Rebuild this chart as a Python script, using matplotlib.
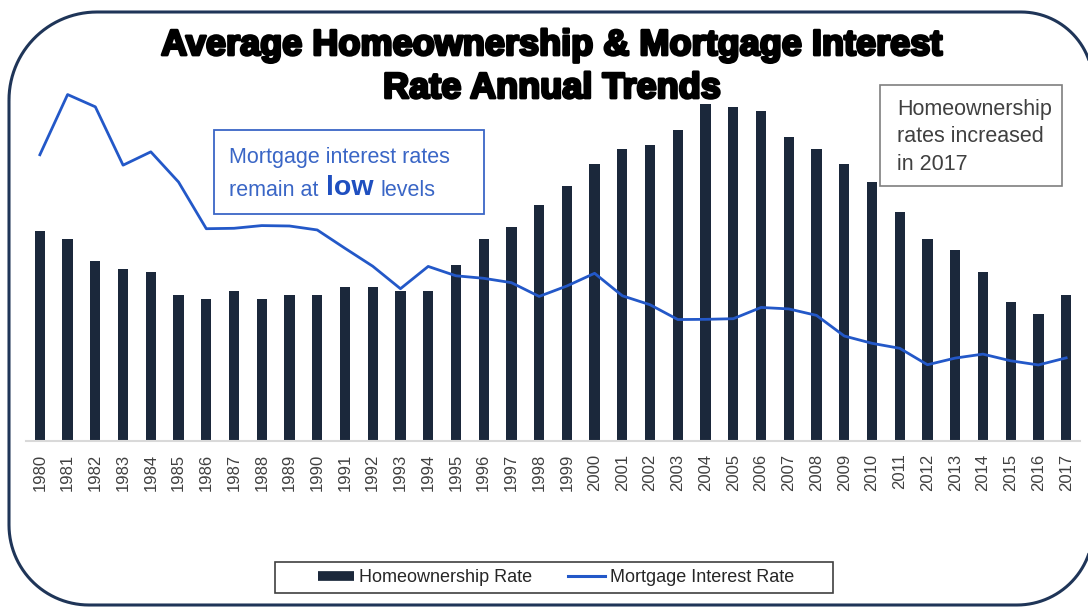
import numpy as np
import matplotlib.pyplot as plt
import matplotlib.patheffects as pe
from matplotlib.patches import Rectangle, PathPatch
from matplotlib.path import Path
from matplotlib.lines import Line2D

plt.rcParams['font.family'] = ['Liberation Sans', 'DejaVu Sans']

YEARS = ["1980", "1981", "1982", "1983", "1984", "1985", "1986", "1987",
         "1988", "1989", "1990", "1991", "1992", "1993", "1994", "1995",
         "1996", "1997", "1998", "1999", "2000", "2001", "2002", "2003",
         "2004", "2005", "2006", "2007", "2008", "2009", "2010", "2011",
         "2012", "2013", "2014", "2015", "2016", "2017"]

# homeownership rate, %
HOMEOWNERSHIP = [65.6, 65.4, 64.8, 64.6, 64.5, 63.9, 63.8, 64.0, 63.8, 63.9,
                 63.9, 64.1, 64.1, 64.0, 64.0, 64.7, 65.4, 65.7, 66.3, 66.8,
                 67.4, 67.8, 67.9, 68.3, 69.0, 68.9, 68.8, 68.1, 67.8, 67.4,
                 66.9, 66.1, 65.4, 65.1, 64.5, 63.7, 63.4, 63.9]

# 30-year fixed mortgage rate, annual average %
MORTGAGE = [13.74, 16.63, 16.04, 13.24, 13.88, 12.43, 10.19, 10.21, 10.34,
            10.32, 10.13, 9.25, 8.39, 7.31, 8.38, 7.93, 7.81, 7.60, 6.94,
            7.44, 8.05, 6.97, 6.54, 5.83, 5.84, 5.87, 6.41, 6.34, 6.03,
            5.04, 4.69, 4.45, 3.66, 3.98, 4.17, 3.85, 3.65, 3.99]

TITLE_LINES = ["Average Homeownership & Mortgage Interest", "Rate Annual Trends"]
NOTE_RATES = ("Mortgage interest rates", "remain at", "low", "levels")
NOTE_OWNERSHIP = "Homeownership\nrates increased\nin 2017"
SERIES = ["Homeownership Rate", "Mortgage Interest Rate"]

NAVY = "#1b283b"
BLUE = "#2358c8"
BLUE_TXT = "#3a66c6"
FRAME = "#1f3558"
GREY_TXT = "#404040"

W, H = 1088, 608
fig = plt.figure(figsize=(W / 100, H / 100), dpi=100)

# main chart: bars on the left scale, line on a hidden twin scale
ax = fig.add_axes([26 / W, 1 - 441 / H, (1080 - 26) / W, (441 - 66) / H])
ax.patch.set_alpha(0)
x = np.arange(len(YEARS))
ax.bar(x, HOMEOWNERSHIP, width=0.37, color=NAVY, zorder=2)
ax.set_ylim(60, 70)
ax.set_xlim(-0.5, len(YEARS) - 0.5)
ax.set_xticks(x, YEARS, rotation=90, fontsize=12, color=GREY_TXT)
ax.tick_params(axis="x", length=0, pad=9)
ax.set_yticks([])
for side in ["top", "left", "right"]:
    ax.spines[side].set_visible(False)
ax.spines["bottom"].set_color("#d9d9d9")
ax.spines["bottom"].set_linewidth(1.5)

ax2 = ax.twinx()
ax2.plot(x, MORTGAGE, color=BLUE, linewidth=2.0, zorder=3)
ax2.set_ylim(0, 18)
ax2.axis("off")

# overlay in pixel units (y down) for the frame, notes and title
ov = fig.add_axes([0, 0, 1, 1])
ov.set_xlim(0, W)
ov.set_ylim(H, 0)
ov.axis("off")
ov.patch.set_alpha(0)


def rounded_frame(left, top, right, bottom, r_tl, r_tr, r_br, r_bl):
    """Closed outline with a separate radius for each corner."""
    def arc(cx, cy, r, a0, a1):
        t = np.radians(np.linspace(a0, a1, 30))
        return np.column_stack([cx + r * np.cos(t), cy + r * np.sin(t)])
    pts = np.vstack([
        arc(left + r_tl, top + r_tl, r_tl, 180, 270),
        arc(right - r_tr, top + r_tr, r_tr, 270, 360),
        arc(right - r_br, bottom - r_br, r_br, 0, 90),
        arc(left + r_bl, bottom - r_bl, r_bl, 90, 180),
    ])
    pts = np.vstack([pts, pts[:1]])
    return Path(pts)


ov.add_patch(PathPatch(rounded_frame(9, 12, 1093, 605, 88, 72, 76, 80),
                       fill=False, edgecolor=FRAME, linewidth=2.2,
                       clip_on=False))

heavy = [pe.withStroke(linewidth=2.0, foreground="black")]
for line, base in zip(TITLE_LINES, [55, 98]):
    ov.text(552, base, line, ha="center", va="baseline", fontsize=26,
            fontweight="bold", color="black", path_effects=heavy)

# note about mortgage rates, with "low" emphasised
ov.add_patch(Rectangle((214, 130), 270, 84, facecolor="white",
                       edgecolor=BLUE_TXT, linewidth=1.3))
ov.text(229, 157, NOTE_RATES[0], ha="left", va="center", fontsize=15.5,
        color=BLUE_TXT)
renderer = fig.canvas.get_renderer()
t1 = ov.text(229, 190, NOTE_RATES[1], ha="left", va="center",
             fontsize=15.5, color=BLUE_TXT)
x1 = 229 + t1.get_window_extent(renderer).width + 8
t2 = ov.text(x1, 188, NOTE_RATES[2], ha="left", va="center", fontsize=20.5,
             fontweight="bold", color="#1f4fc0")
x2 = x1 + t2.get_window_extent(renderer).width + 7
ov.text(x2, 190, NOTE_RATES[3], ha="left", va="center", fontsize=15.5,
        color=BLUE_TXT)

# note about homeownership
ov.add_patch(Rectangle((880, 85), 182, 101, facecolor="white",
                       edgecolor="#7f7f7f", linewidth=1.2))
ov.text(897, 137, NOTE_OWNERSHIP, ha="left", va="center", fontsize=15.5,
        color=GREY_TXT, linespacing=1.39)

# legend with a hand-drawn frame
ov.add_patch(Rectangle((275, 562), 558, 31, fill=False,
                       edgecolor="#404040", linewidth=1.2))
handles = [Line2D([], [], color=NAVY, linewidth=7, solid_capstyle="butt"),
           Line2D([], [], color=BLUE, linewidth=2.2)]
fig.legend(handles, SERIES, loc="center", bbox_to_anchor=(556 / W, 1 - 578 / H),
           ncol=2, frameon=False, fontsize=13, handlelength=2.0,
           handletextpad=0.3, columnspacing=2.0, labelcolor="#262626")

fig.savefig("out.png", dpi=100)
